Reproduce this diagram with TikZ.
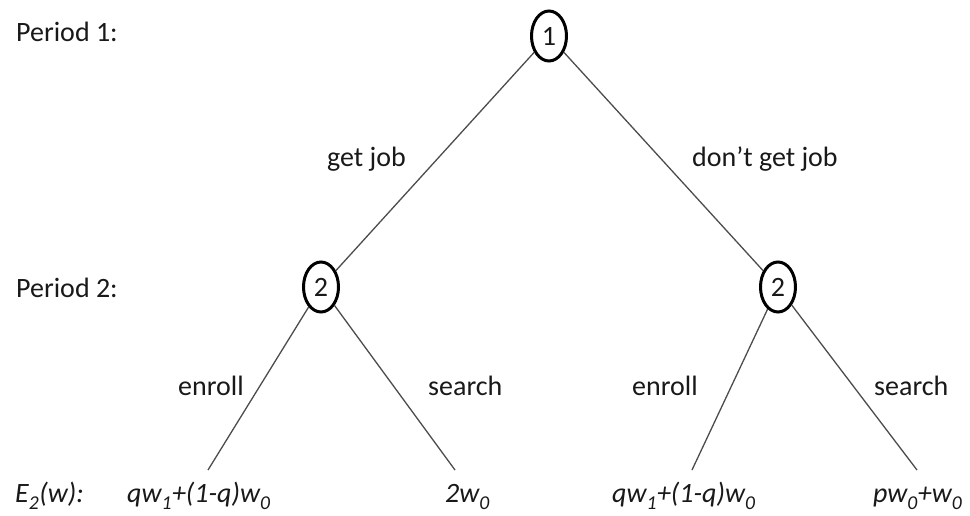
\documentclass[tikz,border=0pt]{standalone}
\usepackage{fontspec}
\setmainfont{Carlito}
\usetikzlibrary{shapes.geometric}
% subscript set a little lower than the default
\newcommand\lowsub[1]{\raisebox{-0.12em}{\textsubscript{#1}}}
\begin{document}
\begin{tikzpicture}[x=1pt,y=-1pt,
  every node/.style={font=\fontsize{28}{34}\selectfont, text=black!90},
  decision/.style={ellipse, draw=black, line width=3pt, minimum width=35pt,
                   minimum height=50pt, inner sep=0pt, fill=white},
  branch/.style={draw=black!70, line width=1.3pt},
  lbl/.style={anchor=base west, inner sep=0pt},
  payoff/.style={anchor=base west, inner sep=0pt, font=\fontsize{28}{34}\selectfont\itshape}]
\useasboundingbox (0,0) rectangle (970,516);

% decision nodes
\node[decision] (n1) at (549,36) {1};
\node[decision] (n2a) at (321,287) {2};
\node[decision] (n2b) at (778,287) {2};

% terminal points
\coordinate (ta) at (208,470);
\coordinate (tb) at (455,470);
\coordinate (tc) at (692,470);
\coordinate (td) at (917,470);

% branches
\draw[branch] (n1) -- (n2a);
\draw[branch] (n1) -- (n2b);
\draw[branch] (n2a) -- (ta);
\draw[branch] (n2a) -- (tb);
\draw[branch] (n2b) -- (tc);
\draw[branch] (n2b) -- (td);

% period labels
\node[lbl] (p1) at (16,42) {Period 1:};
\node[lbl] (p2) at (16,297) {Period 2:};

% action labels
\node[lbl] (gj) at (327,167) {get job};
\node[lbl] (dgj) at (692,167) {don’t get job};
\node[lbl] (ea) at (178,395) {enroll};
\node[lbl] (sa) at (428,395) {search};
\node[lbl] (eb) at (632,395) {enroll};
\node[lbl] (sb) at (874,395) {search};

% payoffs
\node[payoff] (ew) at (15,502) {E\lowsub{2}(w):};
\node[payoff] (pa) at (127,502) {qw\lowsub{1}+(1-q)w\lowsub{0}};
\node[payoff] (pb) at (445,502) {2w\lowsub{0}};
\node[payoff] (pc) at (612,502) {qw\lowsub{1}+(1-q)w\lowsub{0}};
\node[payoff] (pd) at (873,502) {pw\lowsub{0}+w\lowsub{0}};
\end{tikzpicture}
\end{document}
